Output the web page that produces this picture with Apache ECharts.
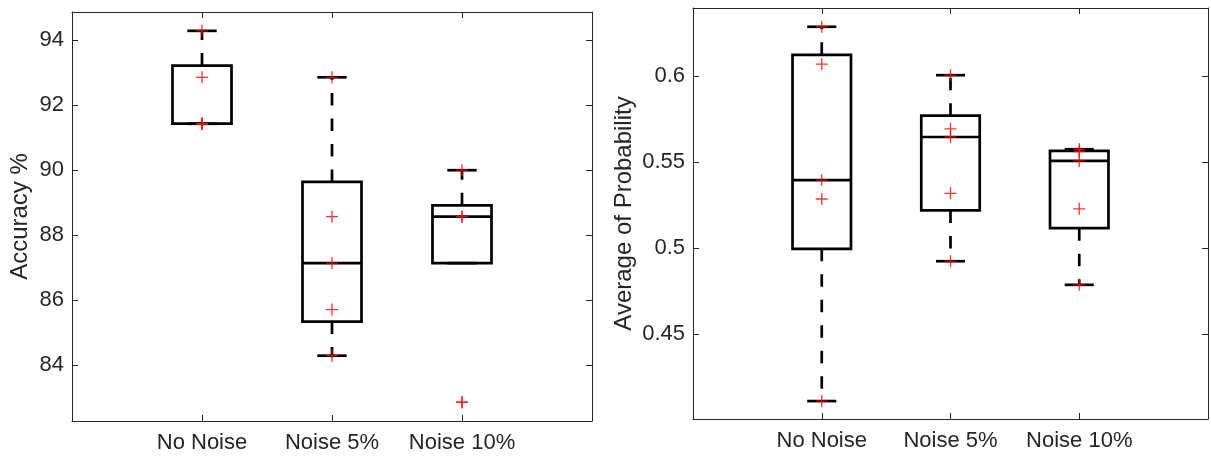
<!DOCTYPE html>
<html>
<head>
<meta charset="utf-8">
<script src="https://cdn.jsdelivr.net/npm/echarts@6/dist/echarts.min.js"></script>
<style>
html, body { margin: 0; padding: 0; background: #fff; }
#chart { width: 1211px; height: 457px; }
</style>
</head>
<body>
<div id="chart"></div>
<script>
var groups = ['No Noise', 'Noise 5%', 'Noise 10%'];

// box stats per group: [lower whisker, q1, median, q3, upper whisker]
var accBoxes = [
    [91.43, 91.43, 91.43, 93.22, 94.29],
    [84.29, 85.34, 87.14, 89.64, 92.86],
    [87.14, 87.14, 88.57, 88.92, 90.00]
];
var accPoints = [
    [94.29, 92.86, 91.43, 91.43, 91.43],
    [92.86, 88.57, 87.14, 85.71, 84.29],
    [90.00, 88.57, 88.57, 82.86, 82.86]
];
var accTicks = [84, 86, 88, 90, 92, 94];

var probBoxes = [
    [0.4112, 0.4996, 0.5395, 0.6122, 0.6285],
    [0.4924, 0.5219, 0.5645, 0.5769, 0.6004],
    [0.4787, 0.5116, 0.5506, 0.5564, 0.5574]
];
var probPoints = [
    [0.6285, 0.6068, 0.5395, 0.5285, 0.4112],
    [0.6004, 0.5692, 0.5645, 0.5318, 0.4924],
    [0.5574, 0.5560, 0.5506, 0.5228, 0.4787]
];
var probTicks = [0.45, 0.5, 0.55, 0.6];

var font = "'Liberation Sans', Arial, sans-serif";
var axisColor = '#262626';
var plus = 'path://M0 4.45H4.45V0H5.55V4.45H10V5.55H5.55V10H4.45V5.55H0Z';

function boxData(boxes) {
    var out = [];
    for (var i = 0; i < boxes.length; i++) {
        out.push([i + 1].concat(boxes[i]));
    }
    return out;
}

function pointData(points) {
    var out = [];
    for (var i = 0; i < points.length; i++) {
        for (var j = 0; j < points[i].length; j++) {
            out.push([i + 1, points[i][j]]);
        }
    }
    return out;
}

function renderBox(params, api) {
    var x = api.value(0);
    var lo = api.coord([x, api.value(1)]);
    var q1 = api.coord([x, api.value(2)]);
    var md = api.coord([x, api.value(3)]);
    var q3 = api.coord([x, api.value(4)]);
    var hi = api.coord([x, api.value(5)]);
    var unit = api.size([1, 0])[0];
    var hb = unit * 0.227;
    var hc = unit * 0.113;
    var solid = { stroke: '#000', fill: null, lineWidth: 2.7 };
    var dashed = { stroke: '#000', fill: null, lineWidth: 2.7, lineDash: [12.5, 13] };
    return {
        type: 'group',
        children: [
            { type: 'line', shape: { x1: q3[0], y1: q3[1], x2: hi[0], y2: hi[1] }, style: dashed },
            { type: 'line', shape: { x1: q1[0], y1: q1[1], x2: lo[0], y2: lo[1] }, style: dashed },
            { type: 'line', shape: { x1: hi[0] - hc, y1: hi[1], x2: hi[0] + hc, y2: hi[1] }, style: solid },
            { type: 'line', shape: { x1: lo[0] - hc, y1: lo[1], x2: lo[0] + hc, y2: lo[1] }, style: solid },
            { type: 'rect', shape: { x: q3[0] - hb, y: q3[1], width: 2 * hb, height: q1[1] - q3[1] }, style: solid },
            { type: 'line', shape: { x1: md[0] - hb, y1: md[1], x2: md[0] + hb, y2: md[1] }, style: solid }
        ]
    };
}

function xAx(grid, pos, labels) {
    return {
        type: 'value', gridIndex: grid, position: pos, min: 0, max: 4,
        axisLine: { show: true, onZero: false, lineStyle: { color: axisColor, width: 1 } },
        axisTick: { show: true, inside: true, length: 6, customValues: [1, 2, 3], lineStyle: { color: axisColor } },
        axisLabel: {
            show: labels, customValues: [1, 2, 3],
            formatter: function (v) { return groups[v - 1] || ''; },
            color: axisColor, fontSize: 22, fontFamily: font, margin: 11
        },
        splitLine: { show: false }
    };
}

function yAx(grid, pos, lo, hi, ticks, name, gap) {
    return {
        type: 'value', gridIndex: grid, position: pos, min: lo, max: hi,
        name: name, nameLocation: 'middle', nameGap: gap,
        nameTextStyle: { color: axisColor, fontSize: 24, fontFamily: font },
        axisLine: { show: true, onZero: false, lineStyle: { color: axisColor, width: 1 } },
        axisTick: { show: true, inside: true, length: 6, customValues: ticks, lineStyle: { color: axisColor } },
        axisLabel: {
            show: name !== '', customValues: ticks,
            color: axisColor, fontSize: 22, fontFamily: font, margin: 8
        },
        splitLine: { show: false }
    };
}

var myChart = echarts.init(document.getElementById('chart'));
var option = {
    animation: false,
    backgroundColor: '#fff',
    grid: [
        { left: 72, top: 12, width: 520, height: 409 },
        { left: 693, top: 8, width: 515, height: 411 }
    ],
    xAxis: [
        xAx(0, 'bottom', true),
        xAx(0, 'top', false),
        xAx(1, 'bottom', true),
        xAx(1, 'top', false)
    ],
    yAxis: [
        yAx(0, 'left', 82.28, 94.87, accTicks, 'Accuracy %', 40),
        yAx(0, 'right', 82.28, 94.87, accTicks, '', 0),
        yAx(1, 'left', 0.4008, 0.6394, probTicks, 'Average of Probability', 57),
        yAx(1, 'right', 0.4008, 0.6394, probTicks, '', 0)
    ],
    series: [
        {
            type: 'custom', xAxisIndex: 0, yAxisIndex: 0, z: 2,
            renderItem: renderBox, encode: { x: 0, y: [1, 2, 3, 4, 5] },
            data: boxData(accBoxes)
        },
        {
            type: 'scatter', xAxisIndex: 0, yAxisIndex: 0, z: 3,
            symbol: plus, symbolSize: 12, itemStyle: { color: '#ff0000' },
            data: pointData(accPoints)
        },
        {
            type: 'custom', xAxisIndex: 2, yAxisIndex: 2, z: 2,
            renderItem: renderBox, encode: { x: 0, y: [1, 2, 3, 4, 5] },
            data: boxData(probBoxes)
        },
        {
            type: 'scatter', xAxisIndex: 2, yAxisIndex: 2, z: 3,
            symbol: plus, symbolSize: 12, itemStyle: { color: '#ff0000' },
            data: pointData(probPoints)
        }
    ]
};
myChart.setOption(option);
</script>
</body>
</html>
